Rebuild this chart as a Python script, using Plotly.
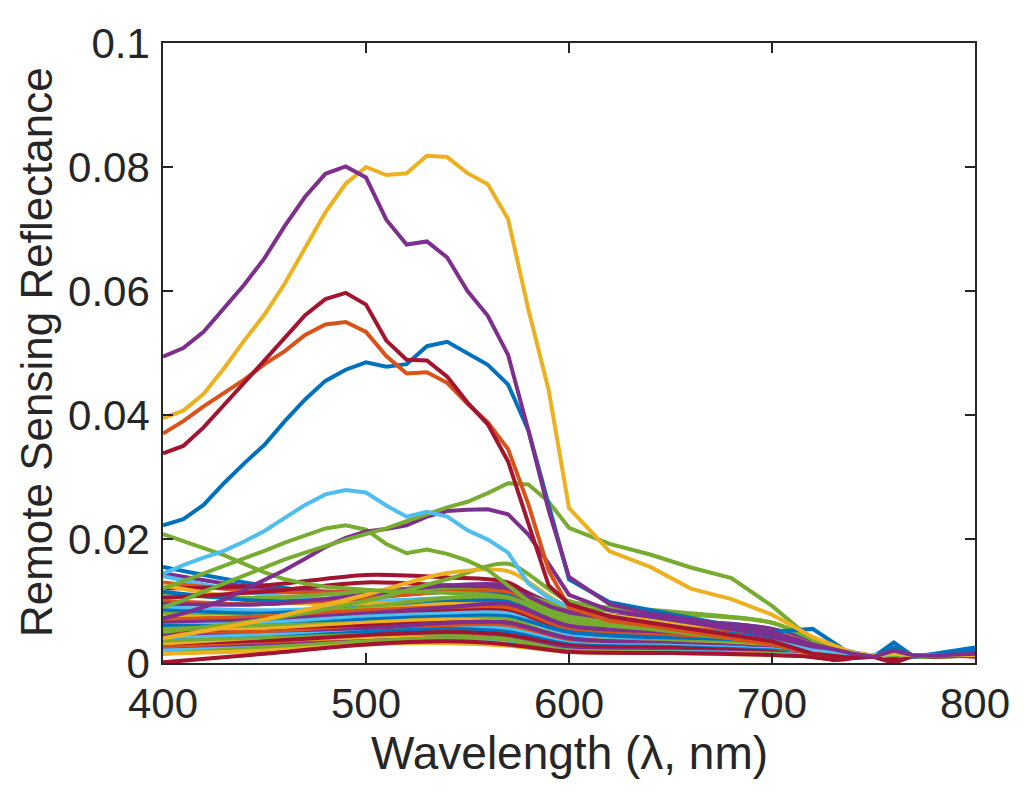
import numpy as np
import plotly.graph_objects as go

# wavelengths (nm) for the distinct upper spectra
wl = [400, 410, 420, 430, 440, 450, 460, 470, 480, 490, 500, 510, 520, 530, 540,
      550, 560, 570, 580, 590, 600, 620, 640, 660, 680, 700, 720, 740, 750, 760,
      770, 780, 800]

# upper spectra, values x 1e-3
purple_top = [49.4, 50.8, 53.4, 57.2, 61.0, 65.3, 70.5, 75.2, 78.9, 80.1, 78.3, 71.5, 67.5, 68.0, 65.4,
              60.0, 56.0, 49.7, 37.5, 24.6, 13.9, 9.5, 8.0, 7.0, 6.0, 5.0, 3.0, 1.5, 1.0, 2.0,
              1.2, 1.2, 1.5]
yellow_top = [39.5, 40.7, 43.4, 47.5, 52.0, 56.2, 61.2, 67.0, 72.7, 77.3, 80.0, 78.7, 79.0, 81.8, 81.6,
              79.0, 77.2, 71.6, 57.0, 44.0, 25.0, 18.0, 15.5, 12.0, 10.3, 7.8, 4.2, 1.6, 1.2, 1.5,
              1.2, 1.2, 1.3]
red_top = [33.8, 35.0, 38.0, 41.5, 45.2, 48.8, 52.5, 56.1, 58.7, 59.7, 57.8, 52.0, 48.9, 48.8, 46.2,
           42.0, 38.5, 32.5, 22.5, 12.5, 9.5, 7.5, 6.5, 5.5, 4.5, 3.5, 1.5, 0.8, 1.0, 0.0,
           1.2, 1.0, 1.2]
orange_top = [37.0, 39.0, 41.4, 43.5, 45.7, 48.2, 50.3, 52.9, 54.6, 55.0, 53.4, 49.5, 46.7, 46.9, 45.2,
              41.8, 38.8, 34.5, 25.6, 14.9, 9.0, 6.8, 6.0, 5.0, 4.0, 3.0, 1.5, 0.8, 1.0, 2.0,
              1.2, 1.2, 1.2]
blue_top = [22.2, 23.2, 25.5, 29.0, 32.2, 35.2, 39.0, 42.5, 45.5, 47.3, 48.5, 47.8, 48.2, 51.1, 51.8,
            50.0, 48.1, 44.9, 37.5, 25.5, 13.5, 9.8, 8.5, 7.2, 6.0, 5.0, 5.5, 1.2, 1.0, 3.3,
            1.0, 1.5, 2.5]
lightblue_top = [14.4, 15.8, 17.0, 18.1, 19.6, 21.3, 23.4, 25.5, 27.2, 27.9, 27.5, 25.4, 23.6, 24.4, 23.6,
                 21.4, 19.9, 17.8, 12.8, 10.5, 9.0, 7.5, 6.5, 5.5, 4.5, 3.5, 2.0, 1.2, 1.0, 1.5,
                 1.2, 1.2, 1.4]
green_peak = [9.0, 10.1, 11.5, 12.8, 14.1, 15.5, 16.7, 17.8, 18.9, 19.9, 20.8, 21.7, 22.9, 24.0, 25.1,
              26.0, 27.4, 29.0, 28.8, 26.0, 21.8, 19.2, 17.5, 15.4, 13.7, 9.2, 3.7, 1.4, 1.0, 1.5,
              1.0, 1.0, 1.2]
green_fall = [20.8, 19.7, 18.6, 17.4, 16.0, 14.6, 13.5, 12.8, 12.3, 12.0, 11.8, 11.6, 11.5, 11.5, 11.4,
              11.2, 11.0, 10.6, 9.5, 8.0, 7.0, 6.0, 5.5, 4.8, 4.0, 3.2, 2.0, 1.2, 1.0, 1.4,
              1.0, 1.0, 1.2]
green_mid = [12.0, 13.2, 14.5, 15.6, 16.8, 18.1, 19.4, 20.6, 21.7, 22.2, 21.5, 19.2, 17.7, 18.3, 17.6,
             16.5, 15.0, 12.5, 10.0, 8.5, 7.5, 6.5, 5.8, 5.0, 4.2, 3.4, 2.0, 1.2, 1.0, 1.3,
             1.0, 1.0, 1.2]
purple_mid = [7.2, 8.0, 9.0, 10.2, 11.8, 13.4, 15.0, 16.8, 18.7, 20.2, 21.2, 21.6, 22.2, 23.6, 24.5,
              24.7, 24.8, 24.0, 20.7, 16.0, 11.0, 8.5, 7.5, 6.5, 5.5, 4.5, 2.5, 1.2, 1.0, 1.6,
              1.2, 1.2, 1.4]

# wavelengths (nm) for the dense bundle of low spectra
wl_low = [400, 450, 500, 540, 570, 600, 650, 700, 730, 750, 760, 770, 800]

# bundle spectra, values x 1e-3, with their line colours
low = [
    ("#0072BD", [15.5, 12.5, 11.0, 11.5, 11.0, 8.0, 7.0, 5.5, 2.5, 1.2, 2.0, 1.2, 1.8]),
    ("#7E2F8E", [14.5, 12.0, 11.5, 12.5, 12.5, 8.5, 7.0, 5.5, 2.0, 1.2, 1.5, 1.2, 1.4]),
    ("#4DBEEE", [14.0, 11.0, 10.0, 10.5, 10.5, 7.0, 6.0, 4.5, 2.0, 1.2, 1.8, 1.2, 1.5]),
    ("#D95319", [13.0, 11.5, 11.5, 12.0, 12.0, 8.0, 6.5, 5.0, 2.0, 1.2, 1.0, 1.2, 1.3]),
    ("#A2142F", [12.0, 12.5, 14.2, 13.8, 13.0, 7.0, 5.5, 4.5, 1.0, 1.2, 0.5, 1.2, 1.2]),
    ("#EDB120", [12.5, 10.0, 9.5, 10.0, 9.5, 6.0, 5.0, 4.0, 1.8, 1.2, 1.5, 1.2, 1.3]),
    ("#77AC30", [11.0, 10.5, 11.5, 12.0, 11.5, 9.0, 8.0, 6.5, 2.5, 1.2, 1.6, 1.2, 1.4]),
    ("#0072BD", [11.5, 10.0, 10.5, 11.5, 11.0, 7.5, 6.5, 5.0, 2.0, 1.2, 2.5, 1.2, 2.0]),
    ("#A2142F", [10.5, 11.5, 13.0, 12.5, 12.0, 6.5, 5.0, 4.0, 0.5, 1.2, 0.3, 1.2, 1.1]),
    ("#D95319", [10.0, 9.5, 10.5, 11.5, 11.5, 7.0, 6.0, 4.5, 1.5, 1.2, 2.0, 1.2, 1.3]),
    ("#7E2F8E", [9.5, 9.5, 11.0, 12.5, 12.0, 8.0, 6.5, 5.0, 1.8, 1.2, 1.5, 1.2, 1.5]),
    ("#4DBEEE", [9.0, 8.5, 9.0, 9.5, 10.0, 6.0, 5.0, 3.8, 1.5, 1.2, 1.4, 1.2, 1.3]),
    ("#0072BD", [8.5, 8.0, 9.0, 10.0, 10.0, 6.5, 5.5, 4.0, 1.8, 1.2, 2.2, 1.2, 1.8]),
    ("#77AC30", [8.0, 7.5, 9.0, 10.5, 10.5, 6.5, 5.0, 3.5, 1.2, 1.2, 1.3, 1.2, 1.2]),
    ("#EDB120", [7.5, 7.5, 8.5, 9.5, 9.0, 5.5, 4.5, 3.5, 1.5, 1.2, 1.4, 1.2, 1.3]),
    ("#A2142F", [7.0, 7.0, 8.0, 8.5, 8.5, 5.0, 4.0, 3.0, 0.8, 1.2, 0.6, 1.2, 1.1]),
    ("#D95319", [7.0, 7.5, 8.5, 9.0, 9.0, 5.5, 4.5, 3.5, 1.5, 1.2, 1.6, 1.2, 1.2]),
    ("#7E2F8E", [6.5, 7.0, 8.0, 9.0, 9.5, 6.0, 5.0, 3.8, 1.5, 1.2, 1.3, 1.2, 1.3]),
    ("#4DBEEE", [6.0, 6.5, 7.5, 8.0, 8.0, 4.5, 3.8, 3.0, 1.4, 1.2, 1.3, 1.2, 1.2]),
    ("#0072BD", [6.0, 6.0, 7.0, 7.5, 7.5, 5.0, 4.0, 3.0, 1.5, 1.2, 1.8, 1.2, 1.6]),
    ("#77AC30", [5.5, 6.0, 6.5, 7.0, 7.0, 4.0, 3.5, 2.8, 1.3, 1.2, 1.3, 1.2, 1.2]),
    ("#EDB120", [5.0, 5.5, 6.5, 7.0, 6.5, 4.0, 3.2, 2.5, 1.3, 1.2, 1.3, 1.2, 1.2]),
    ("#A2142F", [5.0, 5.0, 6.0, 6.5, 6.5, 4.0, 3.0, 2.2, 0.8, 1.2, 0.8, 1.2, 1.1]),
    ("#D95319", [4.5, 5.0, 5.5, 6.0, 6.0, 3.5, 3.0, 2.2, 1.2, 1.2, 1.3, 1.2, 1.2]),
    ("#7E2F8E", [4.5, 4.5, 5.5, 6.5, 6.5, 4.0, 3.2, 2.4, 1.2, 1.2, 1.2, 1.2, 1.2]),
    ("#4DBEEE", [4.0, 4.5, 5.0, 5.5, 5.5, 3.2, 2.8, 2.2, 1.2, 1.2, 1.3, 1.2, 1.2]),
    ("#0072BD", [3.5, 4.0, 5.0, 5.5, 5.0, 3.0, 2.6, 2.0, 1.3, 1.2, 1.6, 1.2, 1.5]),
    ("#77AC30", [3.5, 4.0, 4.5, 4.5, 4.0, 2.5, 2.2, 1.8, 1.1, 1.2, 1.2, 1.2, 1.2]),
    ("#EDB120", [3.0, 3.5, 4.0, 4.0, 3.5, 2.2, 2.0, 1.6, 1.1, 1.2, 1.2, 1.2, 1.2]),
    ("#A2142F", [2.5, 3.5, 4.5, 5.0, 4.5, 2.8, 2.4, 1.8, 0.6, 1.2, 0.9, 1.2, 1.1]),
    ("#D95319", [2.5, 3.0, 3.5, 3.8, 3.5, 2.2, 1.9, 1.5, 1.1, 1.2, 1.2, 1.2, 1.2]),
    ("#7E2F8E", [2.0, 2.8, 3.5, 4.0, 3.8, 2.4, 2.0, 1.6, 1.1, 1.2, 1.2, 1.2, 1.2]),
    ("#4DBEEE", [2.0, 2.5, 3.2, 3.5, 3.2, 2.0, 1.8, 1.5, 1.1, 1.2, 1.2, 1.2, 1.2]),
    ("#77AC30", [1.5, 2.5, 3.5, 4.0, 3.8, 2.0, 1.7, 1.4, 1.1, 1.2, 1.2, 1.2, 1.2]),
    ("#EDB120", [1.5, 2.0, 3.0, 3.2, 2.8, 1.8, 1.6, 1.3, 1.1, 1.2, 1.2, 1.2, 1.2]),
    ("#A2142F", [0.1, 1.5, 3.0, 3.5, 3.0, 1.8, 1.6, 1.3, 0.9, 1.2, 1.0, 1.2, 1.1]),
    ("#77AC30", [5.0, 7.0, 10.0, 13.5, 16.0, 10.0, 8.3, 6.5, 2.5, 1.2, 1.4, 1.2, 1.3]),
    ("#EDB120", [4.0, 7.0, 11.0, 14.5, 14.8, 9.0, 6.5, 5.0, 2.0, 1.2, 1.5, 1.2, 1.3]),
]

upper = [
    ("#77AC30", green_fall),
    ("#77AC30", green_mid),
    ("#7E2F8E", purple_mid),
    ("#77AC30", green_peak),
    ("#4DBEEE", lightblue_top),
    ("#0072BD", blue_top),
    ("#D95319", orange_top),
    ("#A2142F", red_top),
    ("#EDB120", yellow_top),
    ("#7E2F8E", purple_top),
]

fig = go.Figure()

for color, vals in low:
    fig.add_trace(go.Scatter(x=wl_low, y=np.array(vals) / 1000, mode="lines",
                             line=dict(color=color, width=4, shape="spline", smoothing=0.8)))

for color, vals in upper:
    fig.add_trace(go.Scatter(x=wl, y=np.array(vals) / 1000, mode="lines",
                             line=dict(color=color, width=4)))

axis_color = "#262626"
# the page body adds an 8px offset, so margins are shifted to compensate
fig.update_layout(
    width=1024, height=792,
    margin=dict(l=155, r=57, t=31, b=137),
    plot_bgcolor="white", paper_bgcolor="white",
    showlegend=False,
    font=dict(family="Liberation Sans, Arial, sans-serif", size=42, color=axis_color),
    xaxis=dict(
        range=[400, 800], tickvals=[400, 500, 600, 700, 800],
        ticks="inside", ticklen=10, tickwidth=1.5, tickcolor=axis_color,
        showline=True, linecolor=axis_color, linewidth=1.5, mirror="ticks",
        showgrid=False, zeroline=False, ticklabelstandoff=3,
    ),
    yaxis=dict(
        range=[0, 0.1], tickvals=[0, 0.02, 0.04, 0.06, 0.08, 0.1],
        ticktext=["0", "0.02", "0.04", "0.06", "0.08", "0.1"],
        ticks="inside", ticklen=10, tickwidth=1.5, tickcolor=axis_color,
        showline=True, linecolor=axis_color, linewidth=1.5, mirror="ticks",
        showgrid=False, zeroline=False, ticklabelstandoff=3,
    ),
    annotations=[
        dict(text="Wavelength (λ, nm)", xref="paper", yref="paper", x=0.501, y=-0.145,
             xanchor="center", yanchor="middle", showarrow=False, font=dict(size=46)),
        dict(text="Remote Sensing Reflectance", xref="paper", yref="paper", x=-0.156, y=0.502,
             xanchor="center", yanchor="middle", textangle=-90, showarrow=False,
             font=dict(size=44)),
    ],
)

fig.write_html("out.html")
